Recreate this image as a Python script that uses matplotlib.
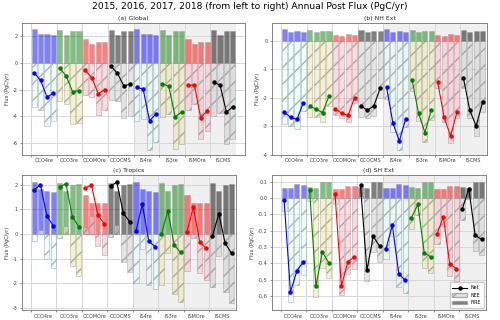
import numpy as np
import matplotlib
matplotlib.use('Agg')
import matplotlib.pyplot as plt
from matplotlib.patches import Patch
from matplotlib.lines import Line2D

# experiment names (4 years each: 2015-2018)
exps = ['OCO4re', 'OCO3re', 'OCOMOre', 'OCOCMS', 'IS4re', 'IS3re', 'ISMOre', 'ISCMS']
years = [2015, 2016, 2017, 2018]

# (a) Global
fire_global = [2.55, 2.2, 2.15, 2.1,  2.5, 2.1, 2.42, 2.42,  1.82, 1.45, 1.57, 1.55,  2.5, 2.1, 2.42, 2.42,
               2.55, 2.2, 2.15, 2.1,  2.5, 2.1, 2.42, 2.42,  1.82, 1.45, 1.57, 1.55,  2.5, 2.1, 2.42, 2.42]
nee_global = [-3.3, -3.5, -4.7, -4.38,  -2.88, -3.1, -4.6, -4.5,  -2.38, -2.58, -3.88, -3.55,  -2.75, -2.88, -4.15, -4.0,
              -4.38, -4.2, -6.5, -5.95,  -4.05, -3.85, -6.45, -6.1,  -3.5, -3.1, -5.7, -5.12,  -3.95, -3.75, -6.1, -5.72]
net_global = [-0.75, -1.3, -2.55, -2.28,  -0.38, -0.98, -2.16, -2.08,  -0.56, -1.12, -2.3, -2.0,  -0.25, -0.78, -1.73, -1.58,
              -1.83, -1.95, -4.33, -3.83,  -1.55, -1.75, -4.03, -3.68,  -1.68, -1.65, -4.13, -3.57,  -1.45, -1.65, -3.68, -3.3]

# (b) NH Ext
fire_nh = [0.4, 0.31, 0.33, 0.3,  0.37, 0.29, 0.34, 0.34,  0.2, 0.17, 0.23, 0.2,  0.37, 0.29, 0.34, 0.34,
           0.4, 0.31, 0.33, 0.3,  0.37, 0.29, 0.34, 0.34,  0.2, 0.17, 0.23, 0.2,  0.37, 0.29, 0.34, 0.34]
nee_nh = [-2.91, -2.99, -3.08, -2.47,  -2.66, -2.69, -2.86, -2.28,  -2.59, -2.71, -2.85, -2.19,  -2.66, -2.72, -2.63, -2.01,
          -2.03, -3.2, -3.84, -3.04,  -1.75, -2.83, -3.56, -2.77,  -1.66, -2.85, -3.57, -2.71,  -1.66, -2.72, -3.33, -2.5]
net_nh = [-2.51, -2.68, -2.75, -2.17,  -2.29, -2.4, -2.52, -1.94,  -2.39, -2.54, -2.62, -1.99,  -2.29, -2.43, -2.29, -1.67,
          -1.63, -2.89, -3.51, -2.74,  -1.38, -2.54, -3.22, -2.43,  -1.46, -2.68, -3.34, -2.51,  -1.29, -2.43, -2.99, -2.16]

# (c) Tropics
fire_trop = [2.1, 1.83, 1.77, 1.72,  2.07, 1.73, 2.0, 2.03,  1.6, 1.26, 1.28, 1.28,  2.07, 1.73, 2.0, 2.03,
             2.1, 1.83, 1.77, 1.72,  2.07, 1.73, 2.0, 2.03,  1.6, 1.26, 1.28, 1.28,  2.07, 1.73, 2.0, 2.03]
nee_trop = [-0.3, 0.17, -1.03, -1.39,  -0.16, 0.32, -1.29, -1.73,  0.27, 0.74, -0.5, -0.87,  -0.11, 0.37, -1.15, -1.53,
            -1.98, -0.62, -2.06, -2.24,  -2.07, -0.79, -2.45, -2.78,  -1.5, -0.17, -1.59, -1.87,  -2.15, -0.91, -2.38, -2.82]
net_trop = [1.8, 2.0, 0.74, 0.33,  1.91, 2.05, 0.71, 0.3,  1.87, 2.0, 0.78, 0.41,  1.96, 2.1, 0.85, 0.5,
            0.12, 1.21, -0.29, -0.52,  0.0, 0.94, -0.45, -0.75,  0.1, 1.09, -0.31, -0.59,  -0.08, 0.82, -0.38, -0.79]

# (d) SH Ext
fire_sh = [0.063, 0.063, 0.083, 0.077,  0.067, 0.063, 0.096, 0.096,  0.057, 0.057, 0.075, 0.073,  0.067, 0.063, 0.096, 0.096,
           0.063, 0.063, 0.083, 0.077,  0.067, 0.063, 0.096, 0.096,  0.057, 0.057, 0.075, 0.073,  0.067, 0.063, 0.096, 0.096]
nee_sh = [-0.077, -0.637, -0.529, -0.468,  -0.016, -0.603, -0.426, -0.491,  -0.035, -0.595, -0.466, -0.433,  0.01, -0.505, -0.33, -0.391,
          -0.373, -0.23, -0.545, -0.58,  -0.187, -0.102, -0.43, -0.456,  -0.279, -0.173, -0.476, -0.505,  -0.132, -0.006, -0.324, -0.349]
net_sh = [-0.014, -0.574, -0.446, -0.391,  0.051, -0.54, -0.33, -0.395,  0.022, -0.538, -0.391, -0.36,  0.077, -0.442, -0.234, -0.295,
          -0.31, -0.167, -0.462, -0.503,  -0.12, -0.039, -0.334, -0.36,  -0.222, -0.116, -0.401, -0.432,  -0.065, 0.057, -0.228, -0.253]

# colours per experiment type (4re, 3re, MOre, CMS)
line_colors = ['blue', 'green', 'red', 'black']
nee_colors = ['lightcyan', 'palegoldenrod', 'pink', 'lightgray']

panels = [
    ('(a) Global', fire_global, nee_global, net_global, (-6.9, 3.0), [-6, -4, -2, 0, 2], '%d', 33.4),
    ('(b) NH Ext', fire_nh, nee_nh, net_nh, (-4.0, 0.62), [-4, -3, -2, -1, 0], '%d', 32.2),
    ('(c) Tropics', fire_trop, nee_trop, net_trop, (-3.1, 2.4), [-3, -2, -1, 0, 1, 2], '%d', 32.2),
    ('(d) SH Ext', fire_sh, nee_sh, net_sh, (-0.685, 0.14), [-0.6, -0.5, -0.4, -0.3, -0.2, -0.1, 0.0, 0.1], '%.1f', 32.2),
]

fig = plt.figure(figsize=(5, 3.2), dpi=100)
# axes boxes [left, bottom, width, height] in figure fractions
boxes = [[0.044, 0.516, 0.446, 0.412],
         [0.544, 0.516, 0.430, 0.412],
         [0.044, 0.031, 0.428, 0.422],
         [0.544, 0.031, 0.428, 0.422]]

for i, (title, fire, nee, net, ylim, yticks, fmt, xmax) in enumerate(panels):
    ax = fig.add_axes(boxes[i])
    ax.set_axisbelow(True)

    # shaded background for the in-situ experiments
    ax.axvspan(16, 32, color='#f0f0f0', zorder=0, lw=0)

    for g in range(len(exps)):
        c = g % 4
        x = g * 4 + np.arange(4) + 0.5
        f = fire[g * 4:(g + 1) * 4]
        n = nee[g * 4:(g + 1) * 4]
        t = net[g * 4:(g + 1) * 4]
        ax.bar(x, f, width=0.8, color=line_colors[c], alpha=0.5, edgecolor='gray', lw=0.4, zorder=2)
        ax.bar(x, n, width=0.8, color=nee_colors[c], alpha=0.6, edgecolor='gray', hatch='//', lw=0.4, zorder=3)
        ax.plot(x, t, '-o', color=line_colors[c], ms=2.2, lw=0.8, zorder=4)

    ax.set_xlim(-1.4, xmax)
    ax.set_ylim(*ylim)
    ax.set_yticks(yticks)
    ax.set_yticklabels([fmt % v for v in yticks])

    # ticks/grid at group boundaries, labels in the middle of the groups
    ax.set_xticks(np.arange(0, 32, 4))
    ax.set_xticklabels([])
    ax.set_xticks(np.arange(0, 32, 4) + 2, minor=True)
    ax.set_xticklabels(exps, minor=True)
    ax.tick_params(axis='x', which='minor', length=0, pad=2.5)
    ax.tick_params(axis='both', which='major', labelsize=3.6, length=1.5, width=0.4, pad=1.5, colors='0.25')
    ax.tick_params(axis='x', which='minor', labelsize=3.5, colors='0.25')
    ax.grid(True, color='#d8d8d8', lw=0.7)

    for s in ax.spines.values():
        s.set_color('0.45')
        s.set_linewidth(0.6)

    ax.set_title(title, fontsize=4.4, pad=2.5, color='0.15')
    ax.set_ylabel('Flux (PgC/yr)', fontsize=3.6, labelpad=2, color='0.2')

    if i == 3:
        handles = [Line2D([0], [0], color='black', marker='o', ms=2.2, lw=0.8, label='Net'),
                   Patch(facecolor='lightgray', alpha=0.6, edgecolor='gray', hatch='//', label='NEE'),
                   Patch(facecolor='black', alpha=0.5, edgecolor='gray', label='FIRE')]
        ax.legend(handles=handles, loc='lower right', fontsize=3.4, framealpha=1, edgecolor='0.8',
                  handlelength=3, borderpad=0.6, labelspacing=0.5)

fig.suptitle('2015, 2016, 2017, 2018 (from left to right) Annual Post Flux (PgC/yr)', fontsize=6.6, y=0.995)

plt.savefig('out.png', dpi=100)
